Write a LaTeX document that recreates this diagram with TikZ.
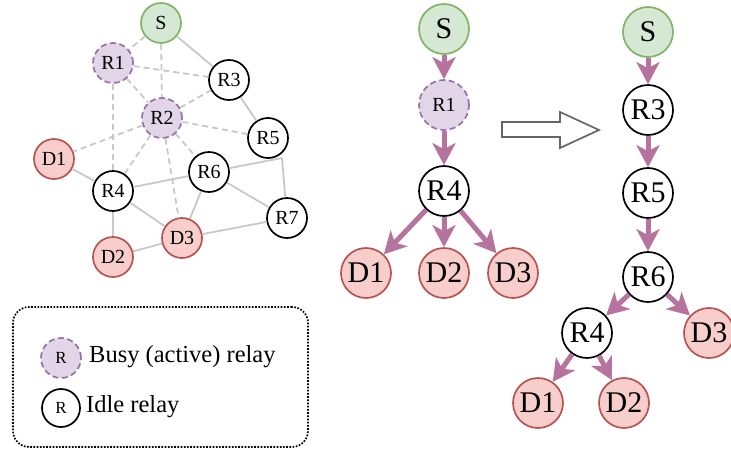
\documentclass[tikz,border=0pt]{standalone}
\usepackage{fontspec}
\setmainfont{Liberation Serif}
\usetikzlibrary{arrows.meta}
\definecolor{gfill}{HTML}{D5E8D4}
\definecolor{gdraw}{HTML}{82B366}
\definecolor{rfill}{HTML}{F8CECC}
\definecolor{rdraw}{HTML}{B85450}
\definecolor{pfill}{HTML}{E1D5E7}
\definecolor{pdraw}{HTML}{9673A6}
\definecolor{arr}{HTML}{B5739D}
\definecolor{edge}{HTML}{C8C8C8}
\definecolor{hollow}{HTML}{666666}
\tikzset{
  nd/.style={circle, inner sep=0pt, line width=1.7pt},
  sm/.style={nd, minimum size=40pt, font=\fontsize{20}{20}\selectfont},
  bg/.style={nd, minimum size=50pt, font=\fontsize{30}{30}\selectfont},
  src/.style={fill=gfill, draw=gdraw},
  dst/.style={fill=rfill, draw=rdraw},
  busy/.style={fill=pfill, draw=pdraw, dash pattern=on 6pt off 3.5pt},
  idle/.style={fill=white, draw=black},
  sol/.style={draw=edge, line width=1.8pt},
  dsh/.style={draw=edge, line width=1.8pt, dash pattern=on 6pt off 4pt},
  flow/.style={draw=arr, line width=5pt, -{Stealth[length=22pt, width=23pt, inset=6pt]}},
}
\begin{document}
\begin{tikzpicture}[x=1pt, y=-1pt]
\useasboundingbox (0,0) rectangle (731,453);
% ---------- left graph ----------
\node[sm,src]  (S)  at (161,23)  {S};
\node[sm,busy] (R1) at (113,63)  {R1};
\node[sm,idle] (R3) at (229,80)  {R3};
\node[sm,busy] (R2) at (162,118) {R2};
\node[sm,idle] (R5) at (268,138) {R5};
\node[sm,dst]  (D1) at (54,159)  {D1};
\node[sm,idle] (R6) at (209,172) {R6};
\node[sm,idle] (R4) at (113,191) {R4};
\node[sm,idle] (R7) at (287,218) {R7};
\node[sm,dst]  (D3) at (182,238) {D3};
\node[sm,dst]  (D2) at (113,257) {D2};
\coordinate (J) at (282,158);
\path[sol] (S) -- (R3);
\path[sol] (R3) -- (R5);
\path[sol] (R6) -- (J);
\path[sol] (J) -- (R7);
\path[sol] (R6) -- (R7);
\path[sol] (R4) -- (R6);
\path[sol] (D1) -- (R4);
\path[sol] (R4) -- (D3);
\path[sol] (R4) -- (D2);
\path[sol] (D2) -- (D3);
\path[sol] (R6) -- (D3);
\path[sol] (D3) -- (R7);
\path[dsh] (S) -- (R1);
\path[dsh] (S) -- (R2);
\path[dsh] (R1) -- (R3);
\path[dsh] (R1) -- (R2);
\path[dsh] (R1) -- (R4);
\path[dsh] (R2) -- (R3);
\path[dsh] (R2) -- (R5);
\path[dsh] (R2) -- (D1);
\path[dsh] (R2) -- (R4);
\path[dsh] (R2) -- (D3);
\path[dsh] (R2) -- (R6);
% ---------- legend ----------
\node[draw=black, line width=1.7pt, dash pattern=on 1.7pt off 1.5pt, rounded corners=16pt,
      minimum width=295pt, minimum height=140pt] (legend) at (160.5,377) {};
\node[nd, minimum size=40pt, busy, font=\fontsize{17}{17}\selectfont] (LB) at (61,358) {R};
\node[nd, minimum size=38pt, idle, font=\fontsize{17}{17}\selectfont] (LI) at (61,408) {R};
\node[anchor=west, inner sep=0pt, font=\fontsize{24.5}{24.5}\selectfont] (LBt) at (89,357) {Busy (active) relay};
\node[anchor=west, inner sep=0pt, font=\fontsize{24.5}{24.5}\selectfont] (LIt) at (86,407) {Idle relay};
% ---------- tree 1 ----------
\node[bg,src]  (aS)  at (444,29)  {S};
\node[bg,busy, font=\fontsize{20}{20}\selectfont] (aR1) at (444,105) {R1};
\node[bg,idle] (aR4) at (444,191) {R4};
\node[bg,dst]  (aD1) at (366,273) {D1};
\node[bg,dst]  (aD2) at (444,273) {D2};
\node[bg,dst]  (aD3) at (513,273) {D3};
\draw[flow] (aS) -- (aR1);
\draw[flow] (aR1) -- (aR4);
\draw[flow] (aR4) -- (aD1);
\draw[flow] (aR4) -- (aD2);
\draw[flow] (aR4) -- (aD3);
% ---------- hollow arrow ----------
\draw[draw=hollow, line width=1.7pt, fill=white]
  (502,122) -- (560,122) -- (560,112) -- (599,130) -- (560,148) -- (560,137) -- (502,137) -- cycle;
% ---------- tree 2 ----------
\node[bg,src]  (bS)  at (648,32)  {S};
\node[bg,idle] (bR3) at (648,110) {R3};
\node[bg,idle] (bR5) at (648,193) {R5};
\node[bg,idle] (bR6) at (648,277) {R6};
\node[bg,idle] (bR4) at (587,333) {R4};
\node[bg,dst]  (bD3) at (709,333) {D3};
\node[bg,dst]  (bD1) at (538,403) {D1};
\node[bg,dst]  (bD2) at (624,403) {D2};
\draw[flow] (bS) -- (bR3);
\draw[flow] (bR3) -- (bR5);
\draw[flow] (bR5) -- (bR6);
\draw[flow] (bR6) -- (bR4);
\draw[flow] (bR6) -- (bD3);
\draw[flow] (bR4) -- (bD1);
\draw[flow] (bR4) -- (bD2);
\end{tikzpicture}
\end{document}
